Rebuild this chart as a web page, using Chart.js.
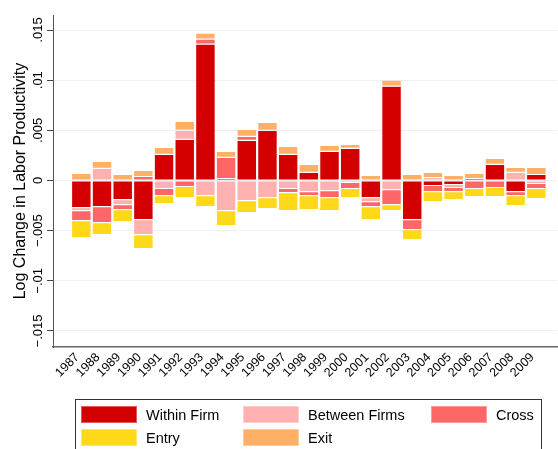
<!DOCTYPE html>
<html>
<head>
<meta charset="utf-8">
<script src="https://cdn.jsdelivr.net/npm/chart.js@4.4.1/dist/chart.umd.min.js"></script>
<style>
html, body { margin: 0; padding: 0; background: #fff; }
#wrap { position: relative; width: 558px; height: 449px; overflow: hidden; }
#legend { position: absolute; left: 75px; top: 399px; width: 467px; height: 60px; border: 1px solid #333; box-sizing: border-box;
  font-family: "Liberation Sans", Arial, sans-serif; font-size: 14.5px; color: #000; }
.item { position: absolute; height: 18px; white-space: nowrap; }
.sw { position: absolute; left: 0; top: 0; width: 56px; height: 17px; box-sizing: border-box; border: 1px solid rgba(255,255,255,0.35); }
.lab { position: absolute; left: 65px; top: 0; line-height: 18px; }
</style>
</head>
<body>
<div id="wrap">
  <canvas id="c" width="558" height="449"></canvas>
  <div id="legend"></div>
</div>
<script>
// data
const years = [1987, 1988, 1989, 1990, 1991, 1992, 1993, 1994, 1995, 1996, 1997, 1998,
               1999, 2000, 2001, 2002, 2003, 2004, 2005, 2006, 2007, 2008, 2009]
const withinFirm = [-0.0027, -0.0026, -0.0019, -0.0039, 0.0026, 0.0041, 0.0136, 0.0002, 0.0040, 0.0050, 0.0026, 0.0008,
                    0.0029, 0.0032, -0.0017, 0.0094, -0.0039, -0.0005, -0.0004, 0.0002, 0.0016, -0.0011, 0.0006]
const betweenFirms = [-0.0003, 0.0012, -0.0005, -0.0015, -0.0008, 0.0009, -0.0015, -0.0030, -0.0020, -0.0017, -0.0008, -0.0011,
                      -0.0010, -0.0002, -0.0004, -0.0009, 0, 0.0003, -0.0003, 0, 0, 0.0008, -0.0003]
const cross = [-0.0010, -0.0016, -0.0005, 0.0004, -0.0007, -0.0006, 0.0005, 0.0021, 0.0004, 0, -0.0004, -0.0004,
               -0.0007, -0.0006, -0.0005, -0.0015, -0.0010, -0.0006, -0.0004, -0.0008, -0.0007, -0.0004, -0.0005]
const entry = [-0.0017, -0.0012, -0.0012, -0.0014, -0.0008, -0.0011, -0.0011, -0.0015, -0.0012, -0.0011, -0.0018, -0.0014,
               -0.0013, -0.0009, -0.0013, -0.0006, -0.0010, -0.0010, -0.0008, -0.0008, -0.0009, -0.0010, -0.0010]
const exitShare = [0.0007, 0.0007, 0.0006, 0.0006, 0.0007, 0.0009, 0.0006, 0.0006, 0.0007, 0.0008, 0.0008, 0.0008,
                   0.0006, 0.0004, 0.0005, 0.0006, 0.0006, 0.0005, 0.0005, 0.0005, 0.0006, 0.0005, 0.0007]

const yTicks = [-0.015, -0.01, -0.005, 0, 0.005, 0.01, 0.015]
const yTickLabels = ['\u2212.015', '\u2212.01', '\u2212.005', '0', '.005', '.01', '.015']

const seriesNames = ['Within Firm', 'Between Firms', 'Cross', 'Entry', 'Exit']
const seriesColors = ['rgb(212,0,0)', 'rgb(255,176,176)', 'rgb(255,102,102)', 'rgb(255,216,26)', 'rgb(255,176,102)']
const seriesData = [withinFirm, betweenFirms, cross, entry, exitShare]

Chart.defaults.font.family = '"Liberation Sans", Arial, sans-serif'
Chart.defaults.color = '#000'

// y tick labels in Stata style: turned on their side
const sideTicks = {
    id: 'sideTicks',
    afterDraw(chart) {
        let s = chart.scales.y
        let ctx = chart.ctx
        ctx.save()
        ctx.font = '13px "Liberation Sans", Arial, sans-serif'
        ctx.fillStyle = '#000'
        ctx.textAlign = 'center'
        ctx.textBaseline = 'middle'
        yTicks.forEach((v, i) => {
            ctx.save()
            ctx.translate(38, s.getPixelForValue(v))
            ctx.rotate(-Math.PI / 2)
            ctx.fillText(yTickLabels[i], 0, 0)
            ctx.restore()
        })
        ctx.restore()
    }
}

const datasets = seriesNames.map((name, i) => ({
    label: name,
    data: seriesData[i],
    backgroundColor: seriesColors[i],
    borderColor: 'rgba(255,255,255,0.25)',
    borderWidth: 0.6,
    borderSkipped: false,
    stack: 'all',
    barPercentage: 0.95,
    categoryPercentage: 1
}))

new Chart(document.getElementById('c'), {
    type: 'bar',
    data: { labels: years, datasets: datasets },
    options: {
        responsive: false,
        animation: false,
        layout: { padding: { left: 11, right: 1, top: 15, bottom: 57 } },
        plugins: { legend: { display: false }, tooltip: { enabled: false } },
        scales: {
            x: {
                type: 'linear',
                min: 1985.63,
                max: 2010,
                offset: false,
                grid: { display: false, drawTicks: false },
                border: { display: true, color: '#666', width: 1.5 },
                afterBuildTicks: scale => { scale.ticks = years.map(v => ({ value: v })) },
                afterFit: scale => { scale.height = 45 },
                ticks: {
                    autoSkip: false,
                    maxRotation: 45,
                    minRotation: 45,
                    padding: 3,
                    labelOffset: -4,
                    font: { size: 12.5 },
                    color: '#000',
                    callback: v => String(v)
                }
            },
            y: {
                stacked: true,
                min: -0.0166,
                max: 0.0165,
                afterBuildTicks: scale => { scale.ticks = yTicks.map(v => ({ value: v })) },
                afterFit: scale => { scale.width = 42 },
                grid: { color: 'rgb(234,240,243)', tickColor: '#444', tickLength: 6, drawTicks: true },
                border: { display: true, color: '#555', width: 1 },
                ticks: { display: false },
                title: {
                    display: true,
                    text: 'Log Change in Labor Productivity',
                    font: { size: 16 },
                    color: '#000',
                    padding: 0
                }
            }
        }
    },
    plugins: [sideTicks]
})

// legend box, laid out in three columns like the original
const legendPos = [[5, 6], [167, 6], [355, 6], [5, 29], [167, 29]]
let html = ``
seriesNames.forEach((name, i) => {
    html += `<div class="item" style="left:${legendPos[i][0]}px;top:${legendPos[i][1]}px">
      <div class="sw" style="background:${seriesColors[i]}"></div><div class="lab">${name}</div></div>`
})
document.getElementById('legend').innerHTML = html
</script>
</body>
</html>
